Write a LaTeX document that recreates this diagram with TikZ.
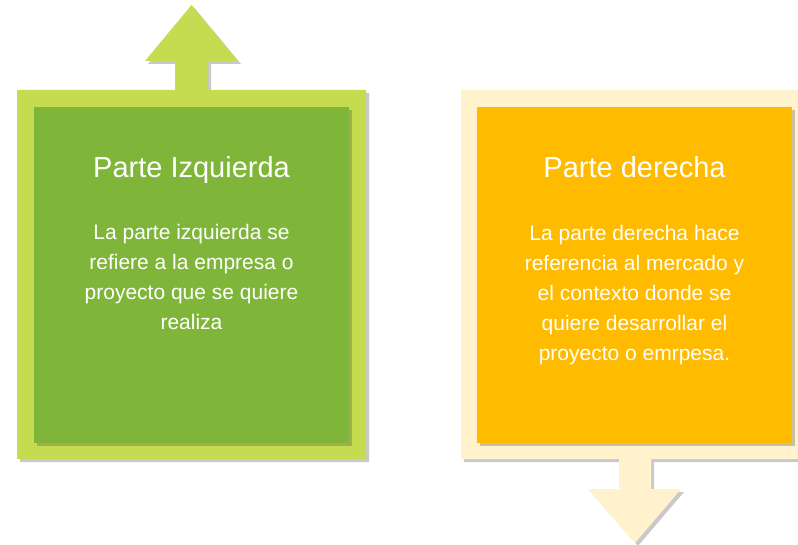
\documentclass[tikz,border=0pt]{standalone}
\usepackage{fontspec}
\setmainfont{Liberation Sans}
\usetikzlibrary{shadows}
\definecolor{verdeclaro}{RGB}{197,220,80}
\definecolor{verdeoscuro}{RGB}{127,182,58}
\definecolor{crema}{RGB}{255,242,204}
\definecolor{naranja}{RGB}{255,187,0}
\tikzset{
 sombra/.style={drop shadow={shadow xshift=3pt, shadow yshift=-3pt, opacity=.3, fill=black!70}},
 caja/.style={draw=none, minimum width=315pt, minimum height=336pt, inner sep=0pt, sombra},
 titulo/.style={text=white, anchor=base, inner sep=0pt, font=\fontsize{29}{34}\selectfont},
 cuerpo/.style={text=white, anchor=base, inner sep=0pt, align=center, font=\fontsize{21}{30}\selectfont}
}
\begin{document}
\begin{tikzpicture}[x=1pt, y=-1pt, line join=miter]
 \useasboundingbox (0,0) rectangle (798,545);
 % marco izquierdo con flecha hacia arriba
 \fill[verdeclaro, sombra] (17,90) -- (175,90) -- (175,61) -- (145,61) -- (191.5,5) -- (238,61)
   -- (208,61) -- (208,90) -- (366,90) -- (366,459) -- (17,459) -- cycle;
 % marco derecho con flecha hacia abajo
 \fill[crema, sombra] (461,90) -- (809,90) -- (809,459) -- (651,459) -- (651,489) -- (681,489)
   -- (635,543) -- (588,489) -- (619,489) -- (619,459) -- (461,459) -- cycle;
 \node[caja, fill=verdeoscuro] (izq) at (191.5,275) {};
 \node[caja, fill=naranja] (der) at (634.5,275) {};
 \node[titulo] (izqtit) at (191.5,178) {Parte Izquierda};
 \node[titulo] (dertit) at (634.5,178) {Parte derecha};
 % base = ultima linea del texto
 \node[cuerpo] (izqtxt) at (191.5,330) {La parte izquierda se\\refiere a la empresa o\\proyecto que se quiere\\realiza};
 \node[cuerpo] (dertxt) at (634.5,360) {La parte derecha hace\\referencia al mercado y\\el contexto donde se\\quiere desarrollar el\\proyecto o emrpesa.};
\end{tikzpicture}
\end{document}
